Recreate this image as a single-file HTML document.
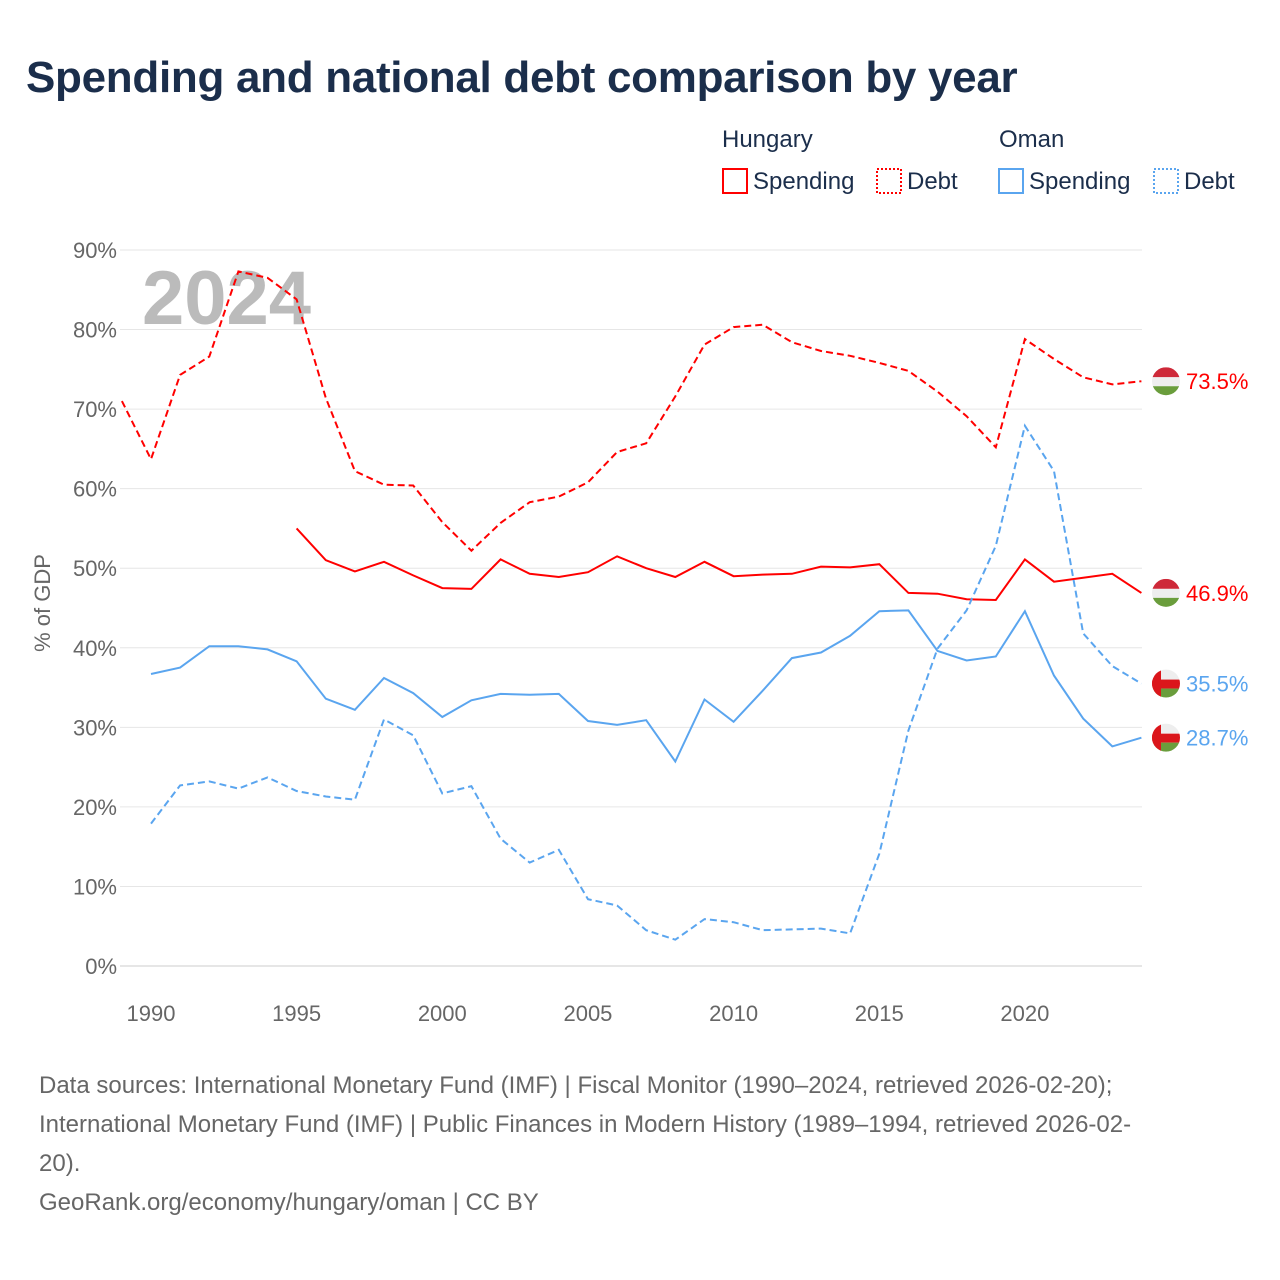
<!DOCTYPE html>
<html><head><meta charset="utf-8">
<style>
body{margin:0;background:#fff;font-family:"Liberation Sans",sans-serif;}
#wrap{position:relative;width:1280px;height:1280px;overflow:hidden;}
h1{position:absolute;left:26px;top:53px;margin:0;font-size:44px;font-weight:bold;color:#1b2e4b;letter-spacing:-0.3px;}
.src{position:absolute;left:39px;top:1066px;font-size:24px;line-height:39px;color:#666;width:1230px;white-space:nowrap;}
</style></head><body>
<div id="wrap">
<h1>Spending and national debt comparison by year</h1>
<svg id="chart" width="1280" height="1280" style="position:absolute;left:0;top:0"></svg>
<div class="src">Data sources: International Monetary Fund (IMF) | Fiscal Monitor (1990–2024, retrieved 2026-02-20);<br>International Monetary Fund (IMF) | Public Finances in Modern History (1989–1994, retrieved 2026-02-<br>20).<br>GeoRank.org/economy/hungary/oman | CC BY</div>
</div>
<script>
const huDebtYears=[1989,1990,1991,1992,1993,1994,1995,1996,1997,1998,1999,2000,2001,2002,2003,2004,2005,2006,2007,2008,2009,2010,2011,2012,2013,2014,2015,2016,2017,2018,2019,2020,2021,2022,2023,2024];
const huDebt=[71,63.7,74.3,76.6,87.3,86.5,83.8,71.4,62.2,60.5,60.4,55.8,52.2,55.7,58.3,59.0,60.8,64.6,65.7,71.6,78.1,80.3,80.6,78.4,77.3,76.7,75.8,74.8,72.2,69.1,65.2,78.8,76.3,74.0,73.1,73.5];
const huSpendYears=[1995,1996,1997,1998,1999,2000,2001,2002,2003,2004,2005,2006,2007,2008,2009,2010,2011,2012,2013,2014,2015,2016,2017,2018,2019,2020,2021,2022,2023,2024];
const huSpend=[55.0,51.0,49.6,50.8,49.1,47.5,47.4,51.1,49.3,48.9,49.5,51.5,50.0,48.9,50.8,49.0,49.2,49.3,50.2,50.1,50.5,46.9,46.8,46.1,46.0,51.1,48.3,48.8,49.3,46.9];
const omYears=[1990,1991,1992,1993,1994,1995,1996,1997,1998,1999,2000,2001,2002,2003,2004,2005,2006,2007,2008,2009,2010,2011,2012,2013,2014,2015,2016,2017,2018,2019,2020,2021,2022,2023,2024];
const omSpend=[36.7,37.5,40.2,40.2,39.8,38.3,33.6,32.2,36.2,34.3,31.3,33.4,34.2,34.1,34.2,30.8,30.3,30.9,25.7,33.5,30.7,34.6,38.7,39.4,41.5,44.6,44.7,39.6,38.4,38.9,44.6,36.5,31.1,27.6,28.7];
const omDebt=[17.9,22.7,23.2,22.3,23.7,22.0,21.3,20.9,31.0,29.0,21.7,22.6,16.0,13.0,14.6,8.4,7.6,4.5,3.3,5.9,5.5,4.5,4.6,4.7,4.1,14.1,29.6,39.9,44.7,52.8,67.9,62.2,41.8,37.7,35.5];
const yTicks=[0,10,20,30,40,50,60,70,80,90];
const xTicks=[1990,1995,2000,2005,2010,2015,2020];

const svg=document.getElementById('chart');const NS='http://www.w3.org/2000/svg';
const X=y=>151+(y-1990)*29.13;const Y=v=>966-v*7.956;
function mk(t,a,p){const e=document.createElementNS(NS,t);for(const k in a)e.setAttribute(k,a[k]);(p||svg).appendChild(e);return e;}
yTicks.forEach(v=>{
 const l=mk('line',{x1:120,x2:1142,y1:Y(v),y2:Y(v),stroke:v==0?'#ccc':'#e6e6e6','stroke-width':1});
 
 
 const t=mk('text',{x:117,y:Y(v)+8,'text-anchor':'end','font-size':22,fill:'#666'});t.textContent=v+'%';
 
 
});
xTicks.forEach(v=>{
 const t=mk('text',{x:X(v),y:1021,'text-anchor':'middle','font-size':22,fill:'#666'});t.textContent=v;
 
 
});
const yt=mk('text',{x:0,y:0,transform:'translate(50,603) rotate(-90)','text-anchor':'middle','font-size':22,fill:'#666'});yt.textContent='% of GDP';


const yr=mk('text',{x:142,y:324,'font-size':76,'font-weight':'bold',fill:'#bbb'});yr.textContent='2024';


function line(xs,vs,color,dash,name){
 const d=xs.map((y,i)=>(i?'L':'M')+X(y).toFixed(1)+','+Y(vs[i]).toFixed(1)).join('');
 const p=mk('path',{d:d,fill:'none',stroke:color,'stroke-width':2,'stroke-dasharray':dash||'none'});
 
 
}
line(huDebtYears,huDebt,'#f00','7,4','hungary-debt-line');
line(huSpendYears,huSpend,'#f00','','hungary-spending-line');
line(omYears,omSpend,'#5aa5ef','','oman-spending-line');
line(omYears,omDebt,'#5aa5ef','7,4','oman-debt-line');
function endLabel(v,color,country,name){
 const cy=Y(v),cx=1166;
 const g=mk('g',{});
 
 
 mk('clipPath',{id:'c'+name},g);mk('circle',{cx:cx,cy:cy,r:14},g.lastChild);
 const gg=mk('g',{'clip-path':'url(#c'+name+')'},g);
 if(country=='hu'){mk('rect',{x:cx-14,y:cy-14,width:28,height:10,fill:'#ce2939'},gg);mk('rect',{x:cx-14,y:cy-4,width:28,height:9,fill:'#eee'},gg);mk('rect',{x:cx-14,y:cy+5,width:28,height:10,fill:'#6a9d3c'},gg);}
 else{mk('rect',{x:cx-14,y:cy-14,width:28,height:10,fill:'#eee'},gg);mk('rect',{x:cx-14,y:cy-4,width:28,height:9,fill:'#db161b'},gg);mk('rect',{x:cx-14,y:cy+5,width:28,height:10,fill:'#6a9d3c'},gg);mk('rect',{x:cx-14,y:cy-14,width:9,height:28,fill:'#db161b'},gg);}
 const t=mk('text',{x:1186,y:cy+8,'font-size':22,fill:color},g);t.textContent=v.toFixed(1)+'%';
}
endLabel(huDebt[huDebt.length-1],'#f00','hu','hungary-debt-end-label');
endLabel(huSpend[huSpend.length-1],'#f00','hu','hungary-spending-end-label');
endLabel(omDebt[omDebt.length-1],'#5aa5ef','om','oman-debt-end-label');
endLabel(omSpend[omSpend.length-1],'#5aa5ef','om','oman-spending-end-label');
function lt(x,y,s,name){const t=mk('text',{x:x,y:y,'font-size':24,fill:'#1b2e4b'});t.textContent=s;
 
 }
lt(722,147,'Hungary','legend-hungary-title');lt(999,147,'Oman','legend-oman-title');
function le(x,color,dash,label,name){
 const g=mk('g',{});
 
 
 mk('rect',{x:x,y:169,width:24,height:24,fill:'none',stroke:color,'stroke-width':2,'stroke-dasharray':dash||'none'},g);
 const t=mk('text',{x:x+30,y:189,'font-size':24,fill:'#1b2e4b'},g);t.textContent=label;
}
le(723,'#f00','','Spending','legend-hungary-spending');
le(877,'#f00','2,2','Debt','legend-hungary-debt');
le(999,'#5aa5ef','','Spending','legend-oman-spending');
le(1154,'#5aa5ef','2,2','Debt','legend-oman-debt');
</script>
</body></html>
